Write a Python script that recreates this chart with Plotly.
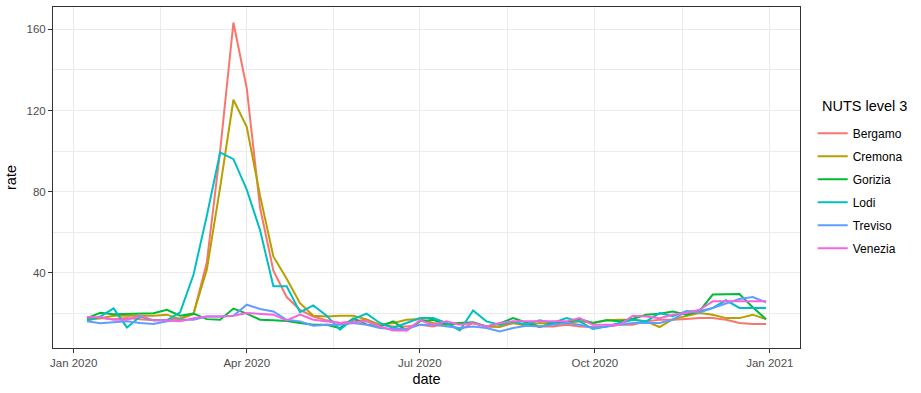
import pandas as pd
import plotly.graph_objects as go

dates = pd.date_range("2020-01-08", periods=52, freq="7D")

bergamo = [17.5, 17.6, 17.1, 17.6, 17.0, 16.5, 16.8, 17.6, 19.5, 45.0,
           100.0, 163.4, 131.0, 72.0, 41.0, 28.0, 21.7, 18.4, 16.5, 15.2,
           16.0, 16.8, 14.3, 13.5, 13.5, 14.3, 13.5, 15.2, 11.9, 15.2,
           13.5, 13.2, 15.2, 14.3, 13.5, 13.5, 14.3, 13.5, 13.2, 13.5,
           14.3, 14.3, 16.0, 16.8, 16.8, 17.2, 17.6, 17.6, 16.8, 15.2,
           14.7, 14.7]
cremona = [16.8, 17.5, 18.8, 18.8, 18.8, 18.8, 19.3, 17.1, 19.8, 41.5,
           82.0, 125.3, 112.0, 78.0, 48.0, 37.0, 25.0, 18.8, 18.4, 18.8,
           18.8, 17.0, 14.3, 15.2, 16.8, 17.1, 15.2, 14.3, 15.2, 15.2,
           13.5, 13.5, 15.2, 13.8, 15.2, 14.8, 15.2, 16.0, 15.2, 16.5,
           16.8, 16.8, 16.0, 13.2, 17.1, 18.5, 20.1, 19.3, 17.6, 17.6,
           19.3, 17.1]
gorizia = [17.6, 20.2, 19.5, 19.6, 19.6, 20.0, 21.7, 18.8, 19.8, 17.1,
           16.8, 22.3, 19.8, 16.8, 16.5, 16.2, 15.2, 14.3, 14.3, 12.7,
           17.5, 14.5, 13.5, 16.0, 11.5, 16.0, 16.8, 14.5, 15.2, 15.5,
           13.5, 15.0, 17.6, 15.2, 13.2, 15.2, 15.5, 17.1, 15.2, 16.5,
           16.0, 17.3, 19.3, 19.8, 20.9, 19.3, 21.0, 29.2, 29.5, 29.5,
           23.0, 17.0]
lodi = [16.3, 18.4, 22.4, 13.0, 18.4, 16.5, 16.5, 20.5, 39.0, 68.0,
        99.3, 96.0, 81.0, 61.0, 33.3, 33.3, 20.5, 23.9, 18.8, 11.9,
        17.1, 19.8, 15.2, 12.7, 15.2, 17.6, 17.6, 15.2, 11.5, 21.4,
        16.0, 14.3, 15.8, 14.5, 16.5, 15.2, 17.6, 16.0, 12.2, 13.5,
        15.2, 16.8, 16.0, 20.1, 18.5, 21.0, 21.0, 22.6, 26.4, 22.6,
        22.6, 22.6]
treviso = [16.0, 15.1, 15.5, 16.0, 15.2, 14.7, 16.0, 16.8, 16.8, 18.4,
           18.4, 18.8, 24.2, 22.1, 20.9, 16.8, 16.0, 13.8, 14.3, 14.3,
           15.2, 14.3, 12.7, 12.2, 12.2, 14.3, 14.3, 13.5, 12.7, 13.5,
           12.7, 11.0, 12.7, 13.8, 13.5, 14.3, 15.2, 14.3, 12.7, 13.5,
           14.3, 15.2, 15.2, 15.2, 16.8, 21.0, 20.4, 22.6, 25.0, 27.0,
           28.0, 25.4]
venezia = [18.1, 18.0, 16.8, 16.8, 18.8, 16.5, 16.5, 16.0, 17.5, 18.4,
           18.4, 18.8, 20.1, 19.8, 19.3, 16.5, 19.3, 16.8, 16.0, 15.2,
           15.5, 16.0, 13.5, 11.5, 11.5, 16.5, 14.3, 16.0, 14.3, 15.2,
           13.5, 15.2, 16.0, 16.0, 16.0, 16.0, 16.0, 17.6, 14.3, 14.3,
           14.3, 18.8, 18.4, 17.6, 19.3, 20.1, 21.7, 25.9, 25.9, 25.9,
           25.9, 25.9]

names = ["Bergamo", "Cremona", "Gorizia", "Lodi", "Treviso", "Venezia"]
series = [bergamo, cremona, gorizia, lodi, treviso, venezia]
colors = ["#F8766D", "#B79F00", "#00BA38", "#00BFC4", "#619CFF", "#F564E3"]
legend_title = "NUTS level 3"

x_ticks = ["2020-01-01", "2020-04-01", "2020-07-01", "2020-10-01", "2021-01-01"]
x_ticklabels = ["Jan 2020", "Apr 2020", "Jul 2020", "Oct 2020", "Jan 2021"]
x_minor = ["2020-02-15 12:00", "2020-05-16 12:00", "2020-08-16", "2020-11-16"]
y_ticks = [40, 80, 120, 160]
y_minor = [20, 60, 100, 140]

FONT = "Liberation Sans, Arial, sans-serif"

fig = go.Figure()
for nm, ys, c in zip(names, series, colors):
    fig.add_trace(go.Scatter(x=dates, y=ys, mode="lines", name=nm,
                             legendgroup=nm,
                             line=dict(color=c, width=2)))

grid = "#EBEBEB"
fig.update_layout(
    width=921, height=393,
    margin=dict(l=53, r=121, t=7, b=45),
    paper_bgcolor="white", plot_bgcolor="white",
    font=dict(family=FONT, color="#000000"),
    showlegend=True,
    legend=dict(
        font=dict(size=12, color="#000000"),
        x=1.017, xanchor="left", y=0.672, yanchor="top",
        tracegroupgap=4, traceorder="grouped",
        bgcolor="rgba(0,0,0,0)",
    ),
    annotations=[dict(
        text=legend_title, xref="paper", yref="paper",
        x=1.027, xanchor="left", y=0.711, yanchor="middle",
        showarrow=False, font=dict(size=14.5, color="#000000"),
    )],
    xaxis=dict(
        type="date",
        range=["2019-12-21 03:36", "2021-01-16 20:24"],
        tickmode="array", tickvals=x_ticks, ticktext=x_ticklabels,
        tickfont=dict(size=11.5, color="#4D4D4D"),
        ticks="outside", ticklen=4, tickcolor="#333333", tickwidth=1,
        showgrid=True, gridcolor=grid, gridwidth=1,
        minor=dict(tickmode="array", tickvals=x_minor, showgrid=True,
                   gridcolor=grid, gridwidth=1, ticks=""),
        showline=True, linecolor="#333333", linewidth=1, mirror=True,
        zeroline=False,
        title=dict(text="date", font=dict(size=14.5, color="#000000"), standoff=6),
    ),
    yaxis=dict(
        range=[2.86, 171.05],
        tickmode="array", tickvals=y_ticks,
        tickfont=dict(size=11.5, color="#4D4D4D"),
        ticks="outside", ticklen=4, tickcolor="#333333", tickwidth=1,
        showgrid=True, gridcolor=grid, gridwidth=1,
        minor=dict(tickmode="array", tickvals=y_minor, showgrid=True,
                   gridcolor=grid, gridwidth=1, ticks=""),
        showline=True, linecolor="#333333", linewidth=1, mirror=True,
        zeroline=False,
        title=dict(text="rate", font=dict(size=14.5, color="#000000"), standoff=6),
    ),
)

fig.write_html("out.html")
